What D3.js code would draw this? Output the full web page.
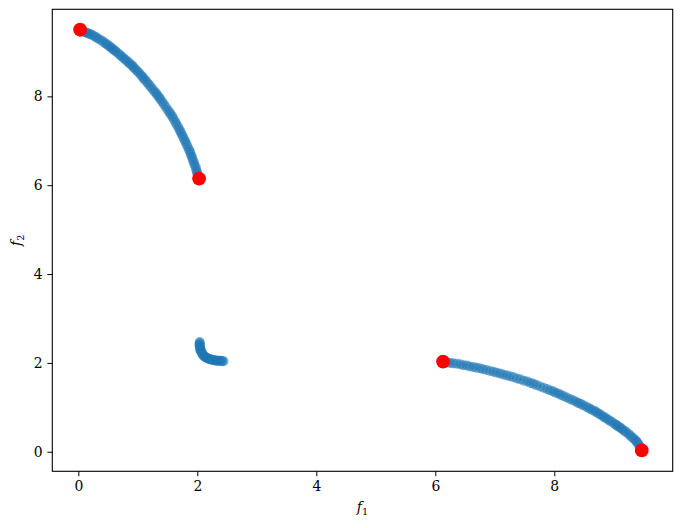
<!DOCTYPE html>
<html>
<head>
<meta charset="utf-8">
<script src="https://cdn.jsdelivr.net/npm/d3@7"></script>
<style>
  html, body { margin: 0; padding: 0; background: #fff; }
  svg { display: block; }
  text { font-family: "DejaVu Serif", serif; }
</style>
</head>
<body>
<svg id="chart" width="681" height="528"></svg>
<script>
// ---- data ----
const branch1X = [0.03,0.05,0.08,0.10,0.13,0.16,0.18,0.22,0.25,0.29,0.32,0.36,0.40,0.44,0.47,0.50,0.53,0.56,0.58,0.61,0.63,0.67,0.70,0.73,0.76,0.79,0.82,0.85,0.88,0.91,0.93,0.96,0.99,1.02,1.05,1.08,1.10,1.13,1.16,1.19,1.22,1.25,1.28,1.31,1.33,1.36,1.38,1.41,1.44,1.47,1.50,1.53,1.55,1.58,1.60,1.63,1.65,1.68,1.70,1.72,1.74,1.76,1.78,1.80,1.82,1.84,1.86,1.88,1.89,1.91,1.92,1.94,1.95,1.97,1.98,1.99,2.00,2.01,2.02];
const branch1Y = [9.49,9.48,9.46,9.45,9.44,9.42,9.41,9.39,9.37,9.34,9.31,9.28,9.25,9.21,9.18,9.15,9.12,9.09,9.06,9.04,9.01,8.97,8.93,8.90,8.86,8.83,8.79,8.76,8.72,8.69,8.65,8.61,8.57,8.53,8.48,8.44,8.40,8.36,8.31,8.26,8.21,8.16,8.11,8.07,8.02,7.98,7.93,7.88,7.82,7.76,7.70,7.65,7.60,7.55,7.49,7.43,7.37,7.31,7.25,7.20,7.14,7.09,7.03,6.98,6.92,6.86,6.80,6.75,6.69,6.64,6.58,6.53,6.47,6.42,6.36,6.31,6.26,6.22,6.18];
const branch2X = [2.04,2.04,2.04,2.04,2.04,2.05,2.05,2.05,2.06,2.07,2.08,2.09,2.10,2.12,2.13,2.15,2.16,2.18,2.20,2.22,2.24,2.26,2.28,2.30,2.32,2.34,2.36,2.38,2.40,2.42,2.44];
const branch2Y = [2.47,2.44,2.42,2.39,2.37,2.34,2.32,2.29,2.27,2.25,2.22,2.19,2.17,2.15,2.13,2.12,2.11,2.10,2.09,2.08,2.07,2.07,2.06,2.06,2.05,2.05,2.05,2.05,2.05,2.04,2.04];
const branch3X = [6.15,6.20,6.25,6.30,6.36,6.42,6.47,6.53,6.58,6.64,6.69,6.75,6.80,6.86,6.92,6.98,7.03,7.09,7.14,7.20,7.25,7.31,7.37,7.43,7.49,7.55,7.60,7.65,7.70,7.76,7.82,7.88,7.93,7.98,8.02,8.07,8.11,8.16,8.21,8.26,8.31,8.36,8.40,8.44,8.48,8.53,8.57,8.61,8.65,8.69,8.72,8.76,8.79,8.83,8.86,8.90,8.93,8.97,9.01,9.04,9.06,9.09,9.12,9.15,9.18,9.21,9.25,9.28,9.31,9.34,9.37,9.39,9.41,9.43,9.45];
const branch3Y = [2.02,2.01,2.00,1.99,1.98,1.97,1.95,1.94,1.92,1.91,1.89,1.88,1.86,1.84,1.82,1.80,1.78,1.76,1.74,1.72,1.70,1.68,1.65,1.63,1.60,1.58,1.55,1.53,1.50,1.47,1.44,1.41,1.38,1.36,1.33,1.31,1.28,1.25,1.22,1.19,1.16,1.13,1.10,1.08,1.05,1.02,0.99,0.96,0.93,0.91,0.88,0.85,0.82,0.79,0.76,0.73,0.70,0.67,0.63,0.61,0.58,0.56,0.53,0.50,0.47,0.44,0.40,0.36,0.32,0.29,0.25,0.22,0.18,0.14,0.10];
const extremeX = [0.03, 2.03, 6.13, 9.47];
const extremeY = [9.50, 6.15, 2.03, 0.03];
const xTicks = [0, 2, 4, 6, 8];
const yTicks = [0, 2, 4, 6, 8];
const xDomain = [-0.437, 9.99];
const yDomain = [-0.44, 9.96];

// ---- layout ----
const svg = d3.select("#chart");
const L = 52.3, R = 672.7, T = 9.3, B = 471.3;
const x = d3.scaleLinear().domain(xDomain).range([L, R]);
const y = d3.scaleLinear().domain(yDomain).range([B, T]);

const pts = [];
[[branch1X, branch1Y], [branch2X, branch2Y], [branch3X, branch3Y]].forEach(([xs, ys]) => {
  xs.forEach((v, i) => pts.push([v, ys[i]]));
});

const plot = svg.append("g");
plot.selectAll("circle.blue").data(pts).enter().append("circle")
  .attr("class", "blue")
  .attr("cx", d => x(d[0])).attr("cy", d => y(d[1]))
  .attr("r", 5)
  .attr("fill", "#1f77b4").attr("fill-opacity", 0.55);

plot.selectAll("circle.red").data(extremeX.map((v, i) => [v, extremeY[i]])).enter().append("circle")
  .attr("class", "red")
  .attr("cx", d => x(d[0])).attr("cy", d => y(d[1]))
  .attr("r", 6.9)
  .attr("fill", "red");

// axes
const xAxis = d3.axisBottom(x).tickValues(xTicks).tickFormat(d3.format("d")).tickSize(4.9).tickPadding(4.9);
const yAxis = d3.axisLeft(y).tickValues(yTicks).tickFormat(d3.format("d")).tickSize(4.9).tickPadding(4.9);

const gx = svg.append("g").attr("transform", `translate(0,${B})`).call(xAxis);
const gy = svg.append("g").attr("transform", `translate(${L},0)`).call(yAxis);
[gx, gy].forEach(g => {
  g.select(".domain").remove();
  g.selectAll("line").attr("stroke", "#000").attr("stroke-width", 1);
  g.selectAll("text").attr("font-family", "'DejaVu Serif', serif").attr("font-size", 13.9).attr("fill", "#000");
});

// frame
svg.append("rect").attr("x", L).attr("y", T).attr("width", R - L).attr("height", B - T)
  .attr("fill", "none").attr("stroke", "#000").attr("stroke-width", 1.1);

// axis labels
const xl = svg.append("text").attr("x", (L + R) / 2).attr("y", 512).attr("text-anchor", "middle").attr("font-size", 13.9);
xl.append("tspan").attr("font-style", "italic").text("f");
xl.append("tspan").attr("font-size", 9.7).attr("dy", 3).text("1");

const yl = svg.append("text").attr("transform", `translate(21,${(T + B) / 2}) rotate(-90)`).attr("text-anchor", "middle").attr("font-size", 13.9);
yl.append("tspan").attr("font-style", "italic").text("f");
yl.append("tspan").attr("font-size", 9.7).attr("dy", 3).text("2");
</script>
</body>
</html>
